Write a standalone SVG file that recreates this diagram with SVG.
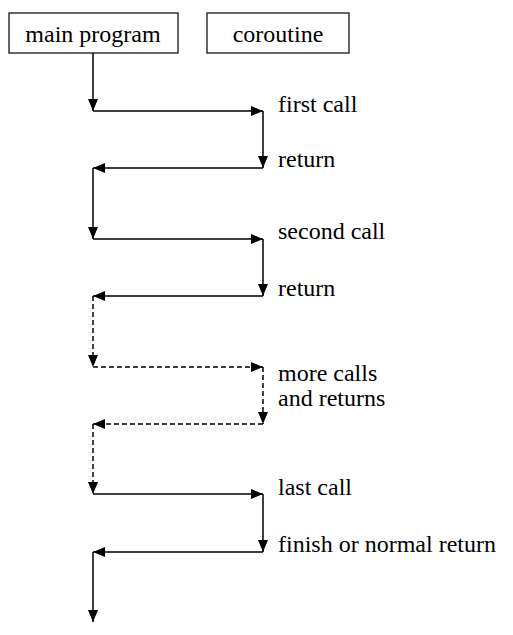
<svg xmlns="http://www.w3.org/2000/svg" width="513" height="635" viewBox="0 0 513 635">
<style>
.box{fill:#fff;stroke:#000;stroke-width:1.2}
.t{font-family:'Liberation Serif','Times New Roman',serif;font-size:24px;fill:#000}
.c{fill:none;stroke:#000;stroke-width:1.5;marker-end:url(#ah)}
.d{stroke-dasharray:5 3}
</style>
<defs>
<marker id="ah" viewBox="0 0 12 10" refX="12" refY="5" markerWidth="12" markerHeight="10" markerUnits="userSpaceOnUse" orient="auto">
<path d="M0,0 L12,5 L0,10 z" fill="#000"/>
</marker>
</defs>
<g id="main">
<rect class="box" x="9" y="13" width="169" height="40"/>
<text class="t" x="93" y="41.5" text-anchor="middle">main program</text>
</g>
<g id="coroutine">
<rect class="box" x="207" y="13" width="142" height="40"/>
<text class="t" x="278" y="41.5" text-anchor="middle">coroutine</text>
</g>
<g id="connectors">
<line class="c" x1="93" y1="53" x2="93" y2="111"/>
<line class="c" x1="93" y1="111" x2="263" y2="111"/>
<line class="c" x1="263" y1="111" x2="263" y2="168"/>
<line class="c" x1="263" y1="168" x2="93" y2="168"/>
<line class="c" x1="93" y1="168" x2="93" y2="239"/>
<line class="c" x1="93" y1="239" x2="263" y2="239"/>
<line class="c" x1="263" y1="239" x2="263" y2="296"/>
<line class="c" x1="263" y1="296" x2="93" y2="296"/>
<line class="c d" x1="93" y1="296" x2="93" y2="367"/>
<line class="c d" x1="93" y1="367" x2="263" y2="367"/>
<line class="c d" x1="263" y1="367" x2="263" y2="424"/>
<line class="c d" x1="263" y1="424" x2="93" y2="424"/>
<line class="c d" x1="93" y1="424" x2="93" y2="494"/>
<line class="c" x1="93" y1="494" x2="263" y2="494"/>
<line class="c" x1="263" y1="494" x2="263" y2="552"/>
<line class="c" x1="263" y1="552" x2="93" y2="552"/>
<line class="c" x1="93" y1="552" x2="93" y2="622"/>
</g>
<g id="labels" class="t">
<text x="278" y="111.5">first call</text>
<text x="278" y="167">return</text>
<text x="278" y="239">second call</text>
<text x="278" y="296">return</text>
<text x="278" y="381">more calls</text>
<text x="278" y="406">and returns</text>
<text x="278" y="495">last call</text>
<text x="278" y="552">finish or normal return</text>
</g>
</svg>
